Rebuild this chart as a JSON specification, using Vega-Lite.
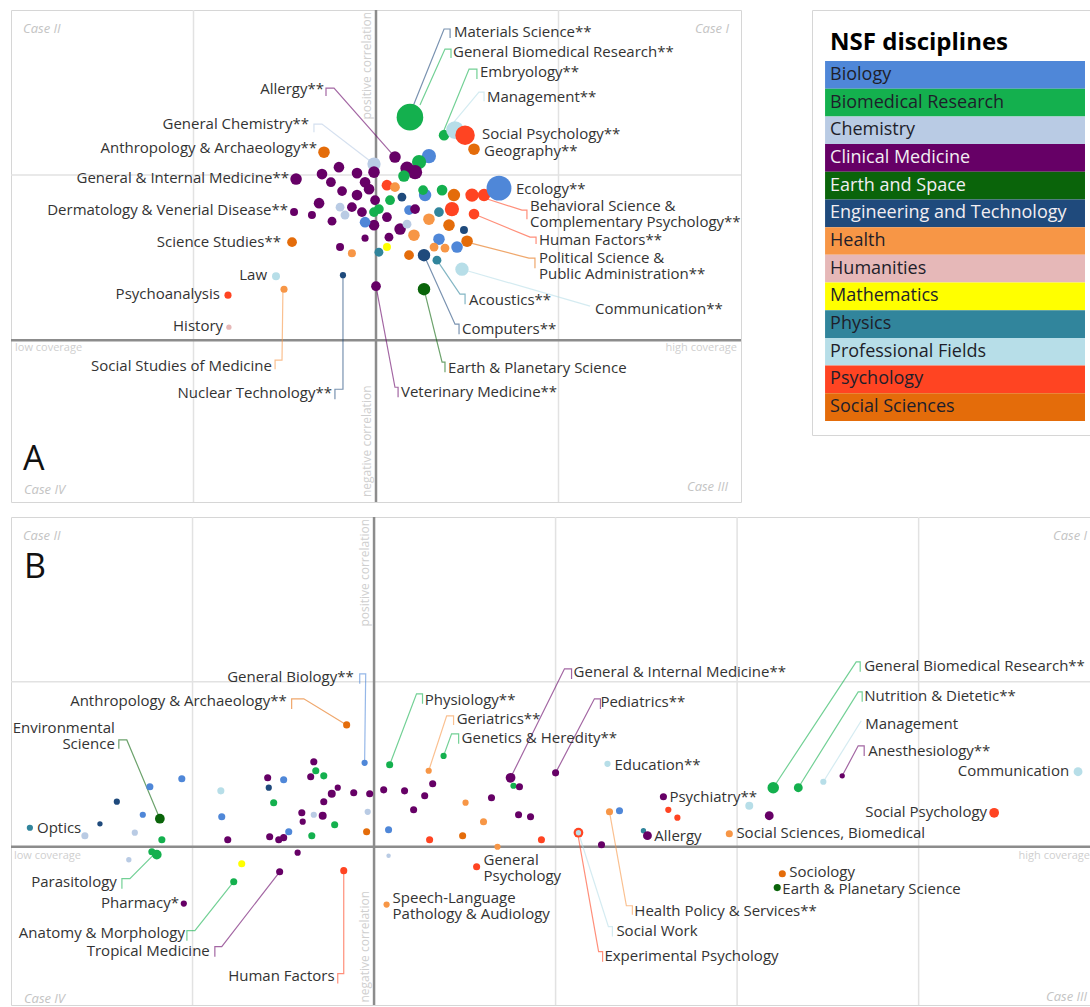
{
  "$schema": "https://vega.github.io/schema/vega-lite/v6.json",
  "background": "white",
  "padding": {"left": 9, "top": 8, "right": 0, "bottom": 0},
  "spacing": 11,
  "config": {"view": {"stroke": "#d6d6d6", "strokeWidth": 1}, "font": "Open Sans", "text": {"font": "Open Sans"}},
  "datasets": {
    "legend": [
      {"c": "Bio", "name": "Biology"}, {"c": "BMR", "name": "Biomedical Research"}, {"c": "Chem", "name": "Chemistry"},
      {"c": "Clin", "name": "Clinical Medicine"}, {"c": "Earth", "name": "Earth and Space"}, {"c": "Eng", "name": "Engineering and Technology"},
      {"c": "Hlth", "name": "Health"}, {"c": "Hum", "name": "Humanities"}, {"c": "Math", "name": "Mathematics"},
      {"c": "Phys", "name": "Physics"}, {"c": "Prof", "name": "Professional Fields"}, {"c": "Psy", "name": "Psychology"},
      {"c": "Soc", "name": "Social Sciences"}
    ],
    "ptA": [
      {"x":18.6,"y":135.1,"n":900,"c":"BMR"},{"x":37.3,"y":124.2,"n":144,"c":"BMR"},{"x":43.3,"y":127.3,"n":400,"c":"Prof"},
      {"x":48.8,"y":124.2,"n":484,"c":"Psy"},{"x":53.7,"y":115.7,"n":169,"c":"Soc"},{"x":10.4,"y":110.9,"n":169,"c":"Clin"},
      {"x":29.0,"y":111.5,"n":256,"c":"Bio"},{"x":-1.1,"y":106.7,"n":225,"c":"Chem"},{"x":-28.5,"y":113.9,"n":169,"c":"Soc"},
      {"x":23.6,"y":107.9,"n":256,"c":"BMR"},{"x":17.0,"y":104.2,"n":225,"c":"Clin"},{"x":21.4,"y":101.8,"n":256,"c":"Clin"},
      {"x":15.3,"y":99.4,"n":169,"c":"BMR"},{"x":-43.8,"y":97.6,"n":169,"c":"Clin"},{"x":-29.6,"y":100.6,"n":144,"c":"Clin"},
      {"x":-24.7,"y":95.7,"n":121,"c":"Clin"},{"x":-20.3,"y":104.8,"n":144,"c":"Clin"},{"x":-10.4,"y":101.2,"n":144,"c":"Clin"},
      {"x":-1.1,"y":101.8,"n":169,"c":"Clin"},{"x":-6.0,"y":95.7,"n":144,"c":"Clin"},{"x":-3.8,"y":91.5,"n":144,"c":"Clin"},
      {"x":-18.6,"y":90.3,"n":121,"c":"Clin"},{"x":-10.4,"y":87.9,"n":144,"c":"Clin"},{"x":-31.2,"y":83.0,"n":144,"c":"Clin"},
      {"x":-13.2,"y":80.6,"n":121,"c":"Clin"},{"x":-7.7,"y":77.6,"n":121,"c":"Clin"},{"x":-0.5,"y":84.8,"n":121,"c":"Clin"},
      {"x":-44.9,"y":77.6,"n":81,"c":"Clin"},{"x":-35.1,"y":75.8,"n":81,"c":"Clin"},{"x":-24.1,"y":72.1,"n":100,"c":"Clin"},
      {"x":-19.7,"y":80.6,"n":100,"c":"Chem"},{"x":-17.0,"y":75.8,"n":100,"c":"Chem"},{"x":-1.1,"y":69.7,"n":144,"c":"Clin"},
      {"x":6.0,"y":74.5,"n":121,"c":"Clin"},{"x":13.2,"y":67.3,"n":169,"c":"Clin"},{"x":7.1,"y":62.4,"n":100,"c":"Clin"},
      {"x":-6.0,"y":61.8,"n":64,"c":"Clin"},{"x":-19.7,"y":56.4,"n":81,"c":"Clin"},{"x":-13.2,"y":52.7,"n":81,"c":"Hlth"},
      {"x":-46.0,"y":59.4,"n":121,"c":"Soc"},{"x":6.0,"y":93.9,"n":144,"c":"Psy"},{"x":10.4,"y":92.7,"n":121,"c":"Hlth"},
      {"x":7.7,"y":84.8,"n":121,"c":"BMR"},{"x":14.2,"y":86.7,"n":100,"c":"Eng"},{"x":18.1,"y":78.8,"n":121,"c":"Bio"},
      {"x":21.4,"y":79.4,"n":121,"c":"Clin"},{"x":26.9,"y":87.9,"n":196,"c":"Bio"},{"x":25.8,"y":90.9,"n":121,"c":"BMR"},
      {"x":36.2,"y":90.9,"n":144,"c":"BMR"},{"x":42.7,"y":87.9,"n":196,"c":"Soc"},{"x":41.6,"y":79.4,"n":256,"c":"Psy"},
      {"x":52.6,"y":87.9,"n":225,"c":"Psy"},{"x":59.2,"y":87.9,"n":196,"c":"Psy"},{"x":67.4,"y":92.1,"n":784,"c":"Bio"},
      {"x":34.5,"y":77.6,"n":121,"c":"Phys"},{"x":29.0,"y":73.3,"n":169,"c":"Hlth"},{"x":40.0,"y":69.7,"n":169,"c":"Soc"},
      {"x":53.7,"y":76.4,"n":144,"c":"Psy"},{"x":48.2,"y":66.7,"n":81,"c":"Eng"},{"x":49.9,"y":60.0,"n":169,"c":"Soc"},
      {"x":44.4,"y":56.4,"n":169,"c":"Bio"},{"x":37.8,"y":55.8,"n":100,"c":"Hlth"},{"x":34.5,"y":61.2,"n":169,"c":"Bio"},
      {"x":31.8,"y":56.4,"n":100,"c":"Hlth"},{"x":26.3,"y":51.5,"n":196,"c":"Eng"},{"x":33.4,"y":48.5,"n":100,"c":"Phys"},
      {"x":18.1,"y":51.5,"n":121,"c":"Soc"},{"x":47.1,"y":43.0,"n":225,"c":"Prof"},{"x":26.3,"y":30.9,"n":196,"c":"Earth"},
      {"x":0,"y":32.7,"n":121,"c":"Clin"},{"x":-18.1,"y":39.4,"n":49,"c":"Eng"},{"x":-54.8,"y":38.8,"n":81,"c":"Prof"},
      {"x":-50.4,"y":30.9,"n":64,"c":"Hlth"},{"x":-81.1,"y":27.3,"n":64,"c":"Psy"},{"x":-80.6,"y":7.9,"n":36,"c":"Hum"},
      {"x":6.0,"y":56.4,"n":81,"c":"Math"},{"x":1.6,"y":53.3,"n":100,"c":"Phys"},{"x":20.8,"y":63.6,"n":169,"c":"Hlth"},
      {"x":-6.0,"y":71.5,"n":144,"c":"Bio"},{"x":1.6,"y":79.4,"n":121,"c":"BMR"},{"x":-1.1,"y":77.6,"n":121,"c":"BMR"},
      {"x":17.0,"y":70.3,"n":100,"c":"Chem"}
    ],
    "ptB": [
      {"x":-105.9,"y":41.2,"n":64,"c":"Bio"},{"x":-123.5,"y":36.4,"n":64,"c":"Bio"},{"x":-141.7,"y":27.3,"n":49,"c":"Eng"},
      {"x":-127.4,"y":19.4,"n":49,"c":"Bio"},{"x":-151.0,"y":13.9,"n":36,"c":"Eng"},{"x":-118.0,"y":17.0,"n":121,"c":"Earth"},
      {"x":-159.3,"y":6.7,"n":64,"c":"Chem"},{"x":-131.8,"y":8.5,"n":49,"c":"Chem"},{"x":-116.9,"y":4.2,"n":64,"c":"BMR"},
      {"x":-189.6,"y":11.5,"n":49,"c":"Phys"},{"x":-122.4,"y":-3.0,"n":64,"c":"BMR"},{"x":-119.7,"y":-4.8,"n":121,"c":"BMR"},
      {"x":-135.1,"y":-7.9,"n":36,"c":"Chem"},{"x":-72.9,"y":-10.3,"n":64,"c":"Math"},{"x":-77.3,"y":-21.2,"n":64,"c":"BMR"},
      {"x":-52.0,"y":-15.2,"n":64,"c":"Clin"},{"x":-42.1,"y":-3.6,"n":49,"c":"Clin"},{"x":-16.7,"y":-14.5,"n":64,"c":"Psy"},
      {"x":-104.8,"y":-34.5,"n":49,"c":"Clin"},{"x":-84.4,"y":33.9,"n":64,"c":"Prof"},{"x":-83.9,"y":18.2,"n":64,"c":"Bio"},
      {"x":-80.6,"y":4.2,"n":64,"c":"Clin"},{"x":-58.6,"y":41.8,"n":64,"c":"Clin"},{"x":-49.8,"y":40.6,"n":64,"c":"Bio"},
      {"x":-33.2,"y":51.5,"n":64,"c":"Clin"},{"x":-32.1,"y":46.1,"n":64,"c":"BMR"},{"x":-34.9,"y":42.4,"n":64,"c":"Clin"},
      {"x":-27.7,"y":43.0,"n":64,"c":"BMR"},{"x":-58.0,"y":35.8,"n":49,"c":"Eng"},{"x":-55.3,"y":26.7,"n":64,"c":"BMR"},
      {"x":-20.0,"y":35.8,"n":49,"c":"Clin"},{"x":-23.3,"y":32.1,"n":81,"c":"Clin"},{"x":-27.7,"y":27.3,"n":64,"c":"Clin"},
      {"x":-11.2,"y":32.7,"n":64,"c":"Clin"},{"x":-2.4,"y":32.1,"n":64,"c":"Clin"},{"x":-39.8,"y":20.6,"n":64,"c":"Clin"},
      {"x":-33.2,"y":19.4,"n":49,"c":"Chem"},{"x":-28.3,"y":18.8,"n":81,"c":"Clin"},{"x":-39.3,"y":15.2,"n":49,"c":"Clin"},
      {"x":-21.7,"y":13.3,"n":64,"c":"BMR"},{"x":-4.1,"y":9.1,"n":64,"c":"Soc"},{"x":-57.5,"y":6.1,"n":64,"c":"Clin"},
      {"x":-52.5,"y":4.2,"n":64,"c":"Clin"},{"x":-49.8,"y":5.5,"n":64,"c":"Clin"},{"x":-47.0,"y":9.1,"n":64,"c":"Bio"},
      {"x":-34.3,"y":6.7,"n":64,"c":"BMR"},{"x":-5.2,"y":50.9,"n":49,"c":"Bio"},{"x":-3.5,"y":21.2,"n":49,"c":"Chem"},
      {"x":-15.1,"y":73.9,"n":64,"c":"Soc"},
      {"x":8.6,"y":49.7,"n":64,"c":"BMR"},{"x":30.1,"y":46.1,"n":49,"c":"Hlth"},{"x":38.3,"y":55.1,"n":49,"c":"BMR"},
      {"x":5.3,"y":34.5,"n":64,"c":"Clin"},{"x":16.8,"y":33.9,"n":64,"c":"Clin"},{"x":32.3,"y":38.2,"n":64,"c":"Clin"},
      {"x":27.9,"y":30.9,"n":64,"c":"Clin"},{"x":21.8,"y":22.4,"n":64,"c":"Clin"},{"x":8.0,"y":10.3,"n":64,"c":"Bio"},
      {"x":30.6,"y":4.2,"n":64,"c":"Psy"},{"x":48.8,"y":6.7,"n":64,"c":"Soc"},{"x":50.4,"y":26.7,"n":49,"c":"Hlth"},
      {"x":60.3,"y":15.2,"n":64,"c":"Hlth"},{"x":64.7,"y":29.7,"n":64,"c":"Clin"},{"x":75.2,"y":41.8,"n":121,"c":"Clin"},
      {"x":76.8,"y":37.0,"n":49,"c":"BMR"},{"x":80.1,"y":36.4,"n":64,"c":"Clin"},{"x":100.0,"y":44.8,"n":64,"c":"Clin"},
      {"x":79.6,"y":19.4,"n":64,"c":"Clin"},{"x":86.2,"y":18.2,"n":64,"c":"Clin"},{"x":92.2,"y":4.2,"n":64,"c":"Psy"},
      {"x":68.0,"y":0,"n":49,"c":"Hlth"},{"x":8.0,"y":-5.5,"n":25,"c":"Chem"},{"x":56.5,"y":-12.1,"n":64,"c":"Psy"},
      {"x":6.9,"y":-35.1,"n":49,"c":"Hlth"},{"x":128.6,"y":50.3,"n":49,"c":"Prof"},{"x":159.4,"y":30.3,"n":64,"c":"Clin"},
      {"x":162.1,"y":22.4,"n":49,"c":"Psy"},{"x":167.1,"y":17.6,"n":49,"c":"Psy"},{"x":129.7,"y":21.2,"n":64,"c":"Hlth"},
      {"x":135.2,"y":21.8,"n":64,"c":"Bio"},{"x":112.6,"y":8.5,"n":121,"c":"Psy"},{"x":112.6,"y":8.5,"n":36,"c":"Prof"},
      {"x":125.3,"y":1.2,"n":64,"c":"Clin"},{"x":148.4,"y":9.7,"n":36,"c":"Phys"},{"x":150.6,"y":6.7,"n":100,"c":"Clin"},
      {"x":195.7,"y":7.9,"n":64,"c":"Hlth"},{"x":219.9,"y":35.8,"n":169,"c":"BMR"},{"x":233.7,"y":35.8,"n":100,"c":"BMR"},
      {"x":247.5,"y":39.4,"n":49,"c":"Prof"},{"x":257.9,"y":43.0,"n":36,"c":"Clin"},{"x":206.7,"y":24.8,"n":81,"c":"Prof"},
      {"x":217.7,"y":18.8,"n":100,"c":"Clin"},{"x":224.9,"y":-16.4,"n":64,"c":"Soc"},{"x":222.1,"y":-24.8,"n":64,"c":"Earth"},
      {"x":341.6,"y":20.6,"n":121,"c":"Psy"},{"x":387.8,"y":45.5,"n":100,"c":"Prof"}
    ],
    "leadA": [
      {"g":"a1","k":0,"x":18.6,"y":137.0,"c":"Eng"},{"g":"a1","k":1,"x":37.3,"y":188.5,"c":"Eng"},{"g":"a1","k":2,"x":40.6,"y":188.5,"c":"Eng"},{"g":"a1","k":3,"x":40.6,"y":183.0,"c":"Eng"},
      {"g":"a2","k":0,"x":24.1,"y":142.4,"c":"BMR"},{"g":"a2","k":1,"x":37.8,"y":176.3,"c":"BMR"},{"g":"a2","k":2,"x":41.1,"y":176.3,"c":"BMR"},{"g":"a2","k":3,"x":41.1,"y":170.9,"c":"BMR"},
      {"g":"a3","k":0,"x":37.3,"y":127.3,"c":"BMR"},{"g":"a3","k":1,"x":51.0,"y":164.2,"c":"BMR"},{"g":"a3","k":2,"x":55.3,"y":164.2,"c":"BMR"},{"g":"a3","k":3,"x":55.3,"y":158.2,"c":"BMR"},
      {"g":"a4","k":0,"x":42.7,"y":132.1,"c":"Prof"},{"g":"a4","k":1,"x":56.4,"y":150.3,"c":"Prof"},{"g":"a4","k":2,"x":59.2,"y":150.3,"c":"Prof"},{"g":"a4","k":3,"x":59.2,"y":144.8,"c":"Prof"},
      {"g":"a5","k":0,"x":10.4,"y":110.9,"c":"Clin"},{"g":"a5","k":1,"x":-23.0,"y":152.7,"c":"Clin"},{"g":"a5","k":2,"x":-27.4,"y":152.7,"c":"Clin"},{"g":"a5","k":3,"x":-27.4,"y":147.9,"c":"Clin"},
      {"g":"a6","k":0,"x":-1.1,"y":106.7,"c":"Chem"},{"g":"a6","k":1,"x":-29.6,"y":130.9,"c":"Chem"},{"g":"a6","k":2,"x":-34.0,"y":130.9,"c":"Chem"},{"g":"a6","k":3,"x":-34.0,"y":126.0,"c":"Chem"},
      {"g":"a7","k":0,"x":59.2,"y":86.1,"c":"Psy"},{"g":"a7","k":1,"x":80.0,"y":78.8,"c":"Psy"},{"g":"a7","k":2,"x":82.7,"y":78.8,"c":"Psy"},{"g":"a7","k":3,"x":82.7,"y":73.3,"c":"Psy"},
      {"g":"a8","k":0,"x":53.7,"y":76.4,"c":"Psy"},{"g":"a8","k":1,"x":84.4,"y":62.4,"c":"Psy"},{"g":"a8","k":2,"x":87.7,"y":62.4,"c":"Psy"},{"g":"a8","k":3,"x":87.7,"y":58.2,"c":"Psy"},
      {"g":"a9","k":0,"x":49.9,"y":59.4,"c":"Soc"},{"g":"a9","k":1,"x":83.8,"y":49.7,"c":"Soc"},{"g":"a9","k":2,"x":87.1,"y":49.7,"c":"Soc"},{"g":"a9","k":3,"x":87.1,"y":43.6,"c":"Soc"},
      {"g":"a10","k":0,"x":33.4,"y":48.5,"c":"Phys"},{"g":"a10","k":1,"x":46.0,"y":27.9,"c":"Phys"},{"g":"a10","k":2,"x":48.8,"y":27.9,"c":"Phys"},{"g":"a10","k":3,"x":48.8,"y":21.8,"c":"Phys"},
      {"g":"a11","k":0,"x":47.1,"y":43.0,"c":"Prof"},{"g":"a11","k":1,"x":117.3,"y":20.6,"c":"Prof"},
      {"g":"a12","k":0,"x":26.3,"y":51.5,"c":"Eng"},{"g":"a12","k":1,"x":43.3,"y":9.7,"c":"Eng"},{"g":"a12","k":2,"x":45.5,"y":9.7,"c":"Eng"},{"g":"a12","k":3,"x":45.5,"y":3.6,"c":"Eng"},
      {"g":"a13","k":0,"x":26.3,"y":30.9,"c":"Earth"},{"g":"a13","k":1,"x":36.2,"y":-13.3,"c":"Earth"},{"g":"a13","k":2,"x":37.8,"y":-13.3,"c":"Earth"},{"g":"a13","k":3,"x":37.8,"y":-19.4,"c":"Earth"},
      {"g":"a14","k":0,"x":0,"y":32.7,"c":"Clin"},{"g":"a14","k":1,"x":10.4,"y":-28.5,"c":"Clin"},{"g":"a14","k":2,"x":12.1,"y":-28.5,"c":"Clin"},{"g":"a14","k":3,"x":12.1,"y":-34.5,"c":"Clin"},
      {"g":"a15","k":0,"x":-51.0,"y":30.9,"c":"Hlth"},{"g":"a15","k":1,"x":-51.5,"y":-12.1,"c":"Hlth"},{"g":"a15","k":2,"x":-55.3,"y":-12.1,"c":"Hlth"},{"g":"a15","k":3,"x":-55.3,"y":-17.6,"c":"Hlth"},
      {"g":"a16","k":0,"x":-18.1,"y":39.4,"c":"Eng"},{"g":"a16","k":1,"x":-18.1,"y":-29.7,"c":"Eng"},{"g":"a16","k":2,"x":-22.5,"y":-29.7,"c":"Eng"},{"g":"a16","k":3,"x":-22.5,"y":-35.8,"c":"Eng"}
    ],
    "leadB": [
      {"g":"b1","k":0,"x":-5.2,"y":50.9,"c":"Bio"},{"g":"b1","k":1,"x":-4.6,"y":104.8,"c":"Bio"},{"g":"b1","k":2,"x":-7.9,"y":104.8,"c":"Bio"},{"g":"b1","k":3,"x":-7.9,"y":98.8,"c":"Bio"},
      {"g":"b2","k":0,"x":-15.1,"y":73.9,"c":"Soc"},{"g":"b2","k":1,"x":-38.7,"y":89.7,"c":"Soc"},{"g":"b2","k":2,"x":-45.4,"y":89.7,"c":"Soc"},{"g":"b2","k":3,"x":-45.4,"y":83.6,"c":"Soc"},
      {"g":"b3","k":0,"x":-118.0,"y":17.0,"c":"Earth"},{"g":"b3","k":1,"x":-136.2,"y":64.8,"c":"Earth"},{"g":"b3","k":2,"x":-140.6,"y":64.8,"c":"Earth"},{"g":"b3","k":3,"x":-140.6,"y":59.4,"c":"Earth"},
      {"g":"b4","k":0,"x":8.6,"y":49.7,"c":"BMR"},{"g":"b4","k":1,"x":23.4,"y":92.7,"c":"BMR"},{"g":"b4","k":2,"x":26.7,"y":92.7,"c":"BMR"},{"g":"b4","k":3,"x":26.7,"y":86.7,"c":"BMR"},
      {"g":"b5","k":0,"x":30.1,"y":46.1,"c":"Hlth"},{"g":"b5","k":1,"x":40.0,"y":79.4,"c":"Hlth"},{"g":"b5","k":2,"x":43.8,"y":79.4,"c":"Hlth"},{"g":"b5","k":3,"x":43.8,"y":73.9,"c":"Hlth"},
      {"g":"b6","k":0,"x":38.3,"y":55.1,"c":"BMR"},{"g":"b6","k":1,"x":42.7,"y":68.5,"c":"BMR"},{"g":"b6","k":2,"x":46.6,"y":68.5,"c":"BMR"},{"g":"b6","k":3,"x":46.6,"y":62.4,"c":"BMR"},
      {"g":"b7","k":0,"x":75.2,"y":41.8,"c":"Clin"},{"g":"b7","k":1,"x":104.9,"y":107.9,"c":"Clin"},{"g":"b7","k":2,"x":108.8,"y":107.9,"c":"Clin"},{"g":"b7","k":3,"x":108.8,"y":101.8,"c":"Clin"},
      {"g":"b8","k":0,"x":100.0,"y":44.8,"c":"Clin"},{"g":"b8","k":1,"x":121.4,"y":89.7,"c":"Clin"},{"g":"b8","k":2,"x":124.7,"y":89.7,"c":"Clin"},{"g":"b8","k":3,"x":124.7,"y":83.6,"c":"Clin"},
      {"g":"b9","k":0,"x":219.9,"y":35.8,"c":"BMR"},{"g":"b9","k":1,"x":265.6,"y":112.1,"c":"BMR"},{"g":"b9","k":2,"x":267.8,"y":112.1,"c":"BMR"},{"g":"b9","k":3,"x":267.8,"y":106.1,"c":"BMR"},
      {"g":"b10","k":0,"x":233.7,"y":35.8,"c":"BMR"},{"g":"b10","k":1,"x":266.7,"y":93.9,"c":"BMR"},{"g":"b10","k":2,"x":268.9,"y":93.9,"c":"BMR"},{"g":"b10","k":3,"x":268.9,"y":87.9,"c":"BMR"},
      {"g":"b11","k":0,"x":247.5,"y":39.4,"c":"Prof"},{"g":"b11","k":1,"x":268.4,"y":76.4,"c":"Prof"},
      {"g":"b12","k":0,"x":257.9,"y":43.0,"c":"Clin"},{"g":"b12","k":1,"x":266.7,"y":61.2,"c":"Clin"},{"g":"b12","k":2,"x":270.0,"y":61.2,"c":"Clin"},{"g":"b12","k":3,"x":270.0,"y":55.1,"c":"Clin"},
      {"g":"b13","k":0,"x":129.7,"y":21.2,"c":"Hlth"},{"g":"b13","k":1,"x":139.0,"y":-35.8,"c":"Hlth"},{"g":"b13","k":2,"x":142.3,"y":-35.8,"c":"Hlth"},{"g":"b13","k":3,"x":142.3,"y":-41.2,"c":"Hlth"},
      {"g":"b14","k":0,"x":112.6,"y":8.5,"c":"Prof"},{"g":"b14","k":1,"x":129.1,"y":-48.5,"c":"Prof"},{"g":"b14","k":2,"x":131.3,"y":-48.5,"c":"Prof"},{"g":"b14","k":3,"x":131.3,"y":-54.5,"c":"Prof"},
      {"g":"b15","k":0,"x":112.1,"y":8.5,"c":"Psy"},{"g":"b15","k":1,"x":123.7,"y":-63.6,"c":"Psy"},{"g":"b15","k":2,"x":125.9,"y":-63.6,"c":"Psy"},{"g":"b15","k":3,"x":125.9,"y":-69.7,"c":"Psy"},
      {"g":"b16","k":0,"x":-120.8,"y":-4.2,"c":"BMR"},{"g":"b16","k":1,"x":-134.5,"y":-19.4,"c":"BMR"},{"g":"b16","k":2,"x":-138.9,"y":-19.4,"c":"BMR"},{"g":"b16","k":3,"x":-138.9,"y":-25.5,"c":"BMR"},
      {"g":"b17","k":0,"x":-77.3,"y":-21.2,"c":"BMR"},{"g":"b17","k":1,"x":-98.7,"y":-50.9,"c":"BMR"},{"g":"b17","k":2,"x":-103.1,"y":-50.9,"c":"BMR"},{"g":"b17","k":3,"x":-103.1,"y":-57.0,"c":"BMR"},
      {"g":"b18","k":0,"x":-52.0,"y":-15.2,"c":"Clin"},{"g":"b18","k":1,"x":-83.9,"y":-60.6,"c":"Clin"},{"g":"b18","k":2,"x":-87.7,"y":-60.6,"c":"Clin"},{"g":"b18","k":3,"x":-87.7,"y":-66.7,"c":"Clin"},
      {"g":"b19","k":0,"x":-16.7,"y":-14.5,"c":"Psy"},{"g":"b19","k":1,"x":-16.7,"y":-77.0,"c":"Psy"},{"g":"b19","k":2,"x":-20.0,"y":-77.0,"c":"Psy"},{"g":"b19","k":3,"x":-20.0,"y":-83.0,"c":"Psy"}
    ],
    "labA": [
      {"t":"Materials Science**","x":42.7,"y":186.6,"s":"L"},
      {"t":"General Biomedical Research**","x":42.2,"y":174.5,"s":"L"},
      {"t":"Embryology**","x":57.0,"y":162.4,"s":"L"},
      {"t":"Management**","x":60.8,"y":147.3,"s":"L"},
      {"t":"Social Psychology**","x":58.1,"y":124.8,"s":"L"},
      {"t":"Geography**","x":59.2,"y":114.5,"s":"L"},
      {"t":"Ecology**","x":76.7,"y":91.5,"s":"L"},
      {"t":"Behavioral Science &\nComplementary Psychology**","x":84.4,"y":81.2,"s":"L"},
      {"t":"Human Factors**","x":89.3,"y":60.6,"s":"L"},
      {"t":"Political Science &\nPublic Administration**","x":89.3,"y":49.6,"s":"L"},
      {"t":"Acoustics**","x":51.0,"y":24.2,"s":"L"},
      {"t":"Communication**","x":120.0,"y":18.8,"s":"L"},
      {"t":"Computers**","x":47.1,"y":6.7,"s":"L"},
      {"t":"Earth & Planetary Science","x":39.5,"y":-17.0,"s":"L"},
      {"t":"Veterinary Medicine**","x":13.7,"y":-31.5,"s":"L"},
      {"t":"Allergy**","x":-28.5,"y":152.1,"s":"R"},
      {"t":"General Chemistry**","x":-36.7,"y":130.9,"s":"R"},
      {"t":"Anthropology & Archaeology**","x":-32.3,"y":116.4,"s":"R"},
      {"t":"General & Internal Medicine**","x":-47.7,"y":98.2,"s":"R"},
      {"t":"Dermatology & Venerial Disease**","x":-48.2,"y":78.8,"s":"R"},
      {"t":"Science Studies**","x":-52.1,"y":59.4,"s":"R"},
      {"t":"Law","x":-59.7,"y":39.4,"s":"R"},
      {"t":"Psychoanalysis","x":-85.5,"y":27.9,"s":"R"},
      {"t":"History","x":-83.8,"y":8.5,"s":"R"},
      {"t":"Social Studies of Medicine","x":-57.0,"y":-15.8,"s":"R"},
      {"t":"Nuclear Technology**","x":-24.1,"y":-32.1,"s":"R"}
    ],
    "labB": [
      {"t":"General Biology**","x":-11.2,"y":103.0,"s":"R"},
      {"t":"Anthropology & Archaeology**","x":-48.1,"y":88.5,"s":"R"},
      {"t":"Environmental\nScience","x":-142.8,"y":72.1,"s":"R"},
      {"t":"Communication","x":382.9,"y":46.1,"s":"R"},
      {"t":"Social Psychology","x":337.7,"y":21.2,"s":"R"},
      {"t":"Parasitology","x":-141.7,"y":-21.2,"s":"R"},
      {"t":"Pharmacy*","x":-107.5,"y":-33.9,"s":"R"},
      {"t":"Anatomy & Morphology","x":-104.2,"y":-52.1,"s":"R"},
      {"t":"Tropical Medicine","x":-90.5,"y":-63.0,"s":"R"},
      {"t":"Human Factors","x":-21.7,"y":-78.2,"s":"R"},
      {"t":"Physiology**","x":27.9,"y":89.1,"s":"L"},
      {"t":"Geriatrics**","x":45.5,"y":77.6,"s":"L"},
      {"t":"Genetics & Heredity**","x":48.2,"y":66.1,"s":"L"},
      {"t":"General & Internal Medicine**","x":109.9,"y":106.1,"s":"L"},
      {"t":"Pediatrics**","x":124.7,"y":87.9,"s":"L"},
      {"t":"Education**","x":132.4,"y":49.7,"s":"L"},
      {"t":"General Biomedical Research**","x":270.0,"y":109.7,"s":"L"},
      {"t":"Nutrition & Dietetic**","x":270.0,"y":91.5,"s":"L"},
      {"t":"Management","x":270.6,"y":74.5,"s":"L"},
      {"t":"Anesthesiology**","x":272.2,"y":58.2,"s":"L"},
      {"t":"Social Sciences, Biomedical","x":199.6,"y":8.5,"s":"L"},
      {"t":"Psychiatry**","x":162.7,"y":30.3,"s":"L"},
      {"t":"Allergy","x":154.4,"y":6.7,"s":"L"},
      {"t":"Sociology","x":228.7,"y":-15.6,"s":"L"},
      {"t":"Earth & Planetary Science","x":224.9,"y":-25.4,"s":"L"},
      {"t":"General\nPsychology","x":60.3,"y":-7.9,"s":"L"},
      {"t":"Speech-Language\nPathology & Audiology","x":10.2,"y":-30.9,"s":"L"},
      {"t":"Health Policy & Services**","x":143.4,"y":-38.8,"s":"L"},
      {"t":"Social Work","x":133.5,"y":-50.9,"s":"L"},
      {"t":"Experimental Psychology","x":126.9,"y":-66.1,"s":"L"},
      {"t":"Optics","x":-185.7,"y":11.5,"s":"L"}
    ]
  },
  "vconcat": [
    {
      "spacing": 71,
      "bounds": "flush",
      "hconcat": [
        {
          "width": 730,
          "height": 492,
          "encoding": {
            "x": {"field": "x", "type": "quantitative", "scale": {"domain": [-200, 200], "nice": false, "zero": false}, "axis": null},
            "y": {"field": "y", "type": "quantitative", "scale": {"domain": [-98, 200], "nice": false, "zero": false}, "axis": null}
          },
          "layer": [
            {"data": {"values": [{"x": -100, "y": -98, "x2": -100, "y2": 200}, {"x": 100, "y": -98, "x2": 100, "y2": 200}, {"x": -200, "y": 100, "x2": 200, "y2": 100}]},
             "mark": {"type": "rule", "color": "#e2e2e2", "strokeWidth": 1.5},
             "encoding": {"x2": {"field": "x2"}, "y2": {"field": "y2"}}},
            {"data": {"values": [{"x": 0, "y": -98, "x2": 0, "y2": 200}, {"x": -200, "y": 0, "x2": 200, "y2": 0}]},
             "mark": {"type": "rule", "color": "#8c8c8c", "strokeWidth": 2.5},
             "encoding": {"x2": {"field": "x2"}, "y2": {"field": "y2"}}},
            {"data": {"values": [{"x": -193.4, "y": 188.5, "t": "Case II"}, {"x": -192.9, "y": -90.9, "t": "Case IV"}]},
             "mark": {"type": "text", "align": "left", "baseline": "middle", "fontSize": 13, "fontStyle": "italic", "color": "#c4c4c4"},
             "encoding": {"text": {"field": "t"}}},
            {"data": {"values": [{"x": 193.4, "y": 188.5, "t": "Case I"}, {"x": 192.9, "y": -89.1, "t": "Case III"}]},
             "mark": {"type": "text", "align": "right", "baseline": "middle", "fontSize": 13, "fontStyle": "italic", "color": "#c4c4c4"},
             "encoding": {"text": {"field": "t"}}},
            {"data": {"values": [{"x": -197.8, "y": -4.8, "t": "low coverage"}]},
             "mark": {"type": "text", "align": "left", "baseline": "middle", "fontSize": 11, "color": "#cfcfcf"},
             "encoding": {"text": {"field": "t"}}},
            {"data": {"values": [{"x": 197.8, "y": -4.8, "t": "high coverage"}]},
             "mark": {"type": "text", "align": "right", "baseline": "middle", "fontSize": 11, "color": "#cfcfcf"},
             "encoding": {"text": {"field": "t"}}},
            {"data": {"values": [{"x": -4.9, "y": 198.8, "t": "positive correlation"}]},
             "mark": {"type": "text", "align": "right", "baseline": "middle", "angle": 270, "fontSize": 12, "color": "#cfcfcf"},
             "encoding": {"text": {"field": "t"}}},
            {"data": {"values": [{"x": -4.9, "y": -95, "t": "negative correlation"}]},
             "mark": {"type": "text", "align": "left", "baseline": "middle", "angle": 270, "fontSize": 12, "color": "#cfcfcf"},
             "encoding": {"text": {"field": "t"}}},
            {"data": {"values": [{"x": -193.4, "y": -72.7, "t": "A"}]},
             "mark": {"type": "text", "align": "left", "baseline": "middle", "fontSize": 34, "color": "#111111"},
             "encoding": {"text": {"field": "t"}}},
            {"data": {"name": "leadA"},
             "mark": {"type": "line", "strokeWidth": 1.2, "opacity": 0.6},
             "encoding": {"detail": {"field": "g"}, "order": {"field": "k", "type": "quantitative"},
               "color": {"field": "c", "type": "nominal", "legend": null,
                 "scale": {"domain": ["Bio","BMR","Chem","Clin","Earth","Eng","Hlth","Hum","Math","Phys","Prof","Psy","Soc"],
                           "range": ["#4f87d8","#14b04e","#b9cbe4","#660066","#0a640a","#1f4a7c","#f79646","#e6b8b8","#ffff00","#31859c","#b7dee8","#ff4422","#e46c0a"]}}}},
            {"data": {"name": "ptA"},
             "mark": {"type": "circle", "opacity": 1},
             "encoding": {
               "color": {"field": "c", "type": "nominal", "legend": null,
                 "scale": {"domain": ["Bio","BMR","Chem","Clin","Earth","Eng","Hlth","Hum","Math","Phys","Prof","Psy","Soc"],
                           "range": ["#4f87d8","#14b04e","#b9cbe4","#660066","#0a640a","#1f4a7c","#f79646","#e6b8b8","#ffff00","#31859c","#b7dee8","#ff4422","#e46c0a"]}},
               "size": {"field": "n", "type": "quantitative", "legend": null, "scale": {"domain": [0, 900], "range": [0, 707]}}}},
            {"data": {"name": "labA"}, "transform": [{"filter": "datum.s == 'L'"}],
             "mark": {"type": "text", "align": "left", "baseline": "middle", "fontSize": 15, "color": "#333333", "lineBreak": "\n", "lineHeight": 16},
             "encoding": {"text": {"field": "t"}}},
            {"data": {"name": "labA"}, "transform": [{"filter": "datum.s == 'R'"}],
             "mark": {"type": "text", "align": "right", "baseline": "middle", "fontSize": 15, "color": "#333333", "lineBreak": "\n", "lineHeight": 16},
             "encoding": {"text": {"field": "t"}}}
          ]
        },
        {
          "width": 278,
          "height": 425,
          "encoding": {
            "x": {"datum": 0.047, "type": "quantitative", "scale": {"domain": [0, 1], "nice": false, "zero": false}, "axis": null},
            "y": {"field": "c", "type": "nominal", "axis": null,
                  "scale": {"domain": ["_t","Bio","BMR","Chem","Clin","Earth","Eng","Hlth","Hum","Math","Phys","Prof","Psy","Soc"], "range": [23.3, 411], "paddingInner": 0, "paddingOuter": 0}}
          },
          "layer": [
            {"data": {"name": "legend"},
             "mark": {"type": "rect"},
             "encoding": {"x2": {"datum": 0.982},
               "color": {"field": "c", "type": "nominal", "legend": null,
                 "scale": {"domain": ["Bio","BMR","Chem","Clin","Earth","Eng","Hlth","Hum","Math","Phys","Prof","Psy","Soc"],
                           "range": ["#4f87d8","#14b04e","#b9cbe4","#660066","#0a640a","#1f4a7c","#f79646","#e6b8b8","#ffff00","#31859c","#b7dee8","#ff4422","#e46c0a"]}}}},
            {"data": {"name": "legend"},
             "mark": {"type": "text", "align": "left", "baseline": "middle", "fontSize": 18},
             "encoding": {"x": {"datum": 0.065, "type": "quantitative"}, "text": {"field": "name"},
               "color": {"condition": {"test": "indexof(['Clin','Earth','Eng'], datum.c) >= 0", "value": "#f2eef2"}, "value": "#1e1e2a"}}},
            {"data": {"values": [{"c": "_t", "name": "NSF disciplines"}]},
             "mark": {"type": "text", "align": "left", "baseline": "middle", "fontSize": 24, "fontWeight": "bold", "dy": -4, "color": "#000000"},
             "encoding": {"x": {"datum": 0.065, "type": "quantitative"}, "text": {"field": "name"}}}
          ]
        }
      ]
    },
    {
      "width": 1081,
      "height": 488,
      "encoding": {
        "x": {"field": "x", "type": "quantitative", "scale": {"domain": [-200, 395.5], "nice": false, "zero": false}, "axis": null},
        "y": {"field": "y", "type": "quantitative", "scale": {"domain": [-96, 200], "nice": false, "zero": false}, "axis": null}
      },
      "layer": [
        {"data": {"values": [{"x": -100, "y": -96, "x2": -100, "y2": 200}, {"x": 100, "y": -96, "x2": 100, "y2": 200}, {"x": 200, "y": -96, "x2": 200, "y2": 200}, {"x": 300, "y": -96, "x2": 300, "y2": 200}, {"x": -200, "y": 100, "x2": 395.5, "y2": 100}]},
         "mark": {"type": "rule", "color": "#e2e2e2", "strokeWidth": 1.5},
         "encoding": {"x2": {"field": "x2"}, "y2": {"field": "y2"}}},
        {"data": {"values": [{"x": 0, "y": -96, "x2": 0, "y2": 200}, {"x": -200, "y": 0, "x2": 395.5, "y2": 0}]},
         "mark": {"type": "rule", "color": "#8c8c8c", "strokeWidth": 2.5},
         "encoding": {"x2": {"field": "x2"}, "y2": {"field": "y2"}}},
        {"data": {"values": [{"x": -193.4, "y": 188.5, "t": "Case II"}, {"x": -192.9, "y": -92.1, "t": "Case IV"}]},
         "mark": {"type": "text", "align": "left", "baseline": "middle", "fontSize": 13, "fontStyle": "italic", "color": "#c4c4c4"},
         "encoding": {"text": {"field": "t"}}},
        {"data": {"values": [{"x": 392.8, "y": 188.5, "t": "Case I"}, {"x": 392.8, "y": -90.9, "t": "Case III"}]},
         "mark": {"type": "text", "align": "right", "baseline": "middle", "fontSize": 13, "fontStyle": "italic", "color": "#c4c4c4"},
         "encoding": {"text": {"field": "t"}}},
        {"data": {"values": [{"x": -198.4, "y": -5.5, "t": "low coverage"}]},
         "mark": {"type": "text", "align": "left", "baseline": "middle", "fontSize": 11, "color": "#cfcfcf"},
         "encoding": {"text": {"field": "t"}}},
        {"data": {"values": [{"x": 394.4, "y": -5.5, "t": "high coverage"}]},
         "mark": {"type": "text", "align": "right", "baseline": "middle", "fontSize": 11, "color": "#cfcfcf"},
         "encoding": {"text": {"field": "t"}}},
        {"data": {"values": [{"x": -5.2, "y": 198.8, "t": "positive correlation"}]},
         "mark": {"type": "text", "align": "right", "baseline": "middle", "angle": 270, "fontSize": 12, "color": "#cfcfcf"},
         "encoding": {"text": {"field": "t"}}},
        {"data": {"values": [{"x": -5.2, "y": -94.5, "t": "negative correlation"}]},
         "mark": {"type": "text", "align": "left", "baseline": "middle", "angle": 270, "fontSize": 12, "color": "#cfcfcf"},
         "encoding": {"text": {"field": "t"}}},
        {"data": {"values": [{"x": -192.9, "y": 169.1, "t": "B"}]},
         "mark": {"type": "text", "align": "left", "baseline": "middle", "fontSize": 34, "color": "#111111"},
         "encoding": {"text": {"field": "t"}}},
        {"data": {"name": "leadB"},
         "mark": {"type": "line", "strokeWidth": 1.2, "opacity": 0.6},
         "encoding": {"detail": {"field": "g"}, "order": {"field": "k", "type": "quantitative"},
           "color": {"field": "c", "type": "nominal", "legend": null,
             "scale": {"domain": ["Bio","BMR","Chem","Clin","Earth","Eng","Hlth","Hum","Math","Phys","Prof","Psy","Soc"],
                       "range": ["#4f87d8","#14b04e","#b9cbe4","#660066","#0a640a","#1f4a7c","#f79646","#e6b8b8","#ffff00","#31859c","#b7dee8","#ff4422","#e46c0a"]}}}},
        {"data": {"name": "ptB"},
         "mark": {"type": "circle", "opacity": 1},
         "encoding": {
           "color": {"field": "c", "type": "nominal", "legend": null,
             "scale": {"domain": ["Bio","BMR","Chem","Clin","Earth","Eng","Hlth","Hum","Math","Phys","Prof","Psy","Soc"],
                       "range": ["#4f87d8","#14b04e","#b9cbe4","#660066","#0a640a","#1f4a7c","#f79646","#e6b8b8","#ffff00","#31859c","#b7dee8","#ff4422","#e46c0a"]}},
           "size": {"field": "n", "type": "quantitative", "legend": null, "scale": {"domain": [0, 900], "range": [0, 707]}}}},
        {"data": {"name": "labB"}, "transform": [{"filter": "datum.s == 'L'"}],
         "mark": {"type": "text", "align": "left", "baseline": "middle", "fontSize": 15, "color": "#333333", "lineBreak": "\n", "lineHeight": 16},
         "encoding": {"text": {"field": "t"}}},
        {"data": {"name": "labB"}, "transform": [{"filter": "datum.s == 'R'"}],
         "mark": {"type": "text", "align": "right", "baseline": "middle", "fontSize": 15, "color": "#333333", "lineBreak": "\n", "lineHeight": 16},
         "encoding": {"text": {"field": "t"}}}
      ]
    }
  ]
}
